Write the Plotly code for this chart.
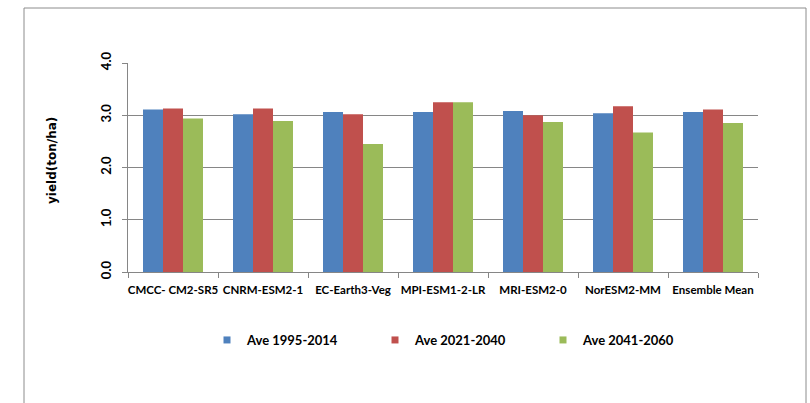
import plotly.graph_objects as go

categories = ["CMCC- CM2-SR5", "CNRM-ESM2-1", "EC-Earth3-Veg", "MPI-ESM1-2-LR",
              "MRI-ESM2-0", "NorESM2-MM", "Ensemble Mean"]
ave_1995_2014 = [3.11, 3.02, 3.06, 3.06, 3.08, 3.04, 3.06]
ave_2021_2040 = [3.13, 3.13, 3.02, 3.25, 3.00, 3.17, 3.11]
ave_2041_2060 = [2.94, 2.89, 2.45, 3.25, 2.87, 2.67, 2.85]
series_names = ["Ave 1995-2014", "Ave 2021-2040", "Ave 2041-2060"]
colors = ["#4F81BD", "#C0504D", "#9BBB59"]
y_ticks = [0, 1, 2, 3, 4]

FONT = "Lato"
FS = 13
W, H = 810, 403
L, R, T, B = 128, 52, 63, 131
pw, ph = W - L - R, H - T - B

def px_x(x):
    return (x - L) / pw

def px_y(y):
    return (H - B - y) / ph

fig = go.Figure()
for name, vals, c in zip(series_names, [ave_1995_2014, ave_2021_2040, ave_2041_2060], colors):
    fig.add_trace(go.Bar(x=categories, y=vals, name=name, showlegend=False,
                         marker=dict(color=c, line=dict(width=0))))
for name, c in zip(series_names, colors):
    fig.add_trace(go.Scatter(x=[None], y=[None], mode="markers", name=name,
                             marker=dict(symbol="square", size=7, color=c)))

fig.update_layout(
    width=W, height=H,
    margin=dict(l=L, r=R, t=T, b=B),
    paper_bgcolor="white", plot_bgcolor="white",
    barmode="group", bargap=1/3, bargroupgap=0,
    font=dict(family=FONT, color="black", size=FS),
    showlegend=True,
    legend=dict(orientation="h", x=px_x(459), xanchor="center", y=px_y(340), yanchor="middle",
                font=dict(family=FONT, size=FS, weight=700), entrywidth=123, entrywidthmode="pixels",
                itemwidth=30, bgcolor="rgba(0,0,0,0)"),
    xaxis=dict(showline=True, linecolor="#868686", linewidth=1, ticks="outside", ticklen=5,
               tickcolor="#868686", tickson="boundaries", showgrid=False, tickangle=0,
               ticklabelstandoff=7,
               tickfont=dict(family=FONT, size=11.5, weight=700), fixedrange=True),
    yaxis=dict(range=[0, 4], tickvals=y_ticks, tickformat=".1f", showline=True, linecolor="#868686",
               linewidth=1, ticks="outside", ticklen=5, tickcolor="#868686", showgrid=True,
               gridcolor="#868686", gridwidth=1, tickangle=-90, zeroline=False, ticklabelstandoff=6,
               tickfont=dict(family=FONT, size=FS, weight=700)),
    annotations=[dict(text="yield(ton/ha)", x=px_x(52), y=px_y(161), xref="paper", yref="paper",
                      textangle=-90, showarrow=False,
                      font=dict(family="DejaVu Sans", size=12, weight=700),
                      xanchor="center", yanchor="middle")],
    shapes=[dict(type="rect", xref="paper", yref="paper", x0=px_x(24), x1=px_x(806),
                 y0=px_y(420), y1=px_y(8), line=dict(color="#8c8c8c", width=1), layer="below")],
)

fig.write_html("out.html")
